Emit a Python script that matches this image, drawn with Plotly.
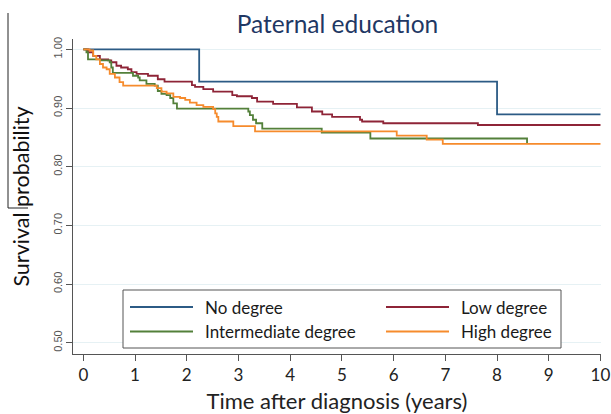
import plotly.graph_objects as go

# ---------------- data ----------------
groups = ["No degree", "Low degree", "Intermediate degree", "High degree"]
colors = ["#2c5b85", "#8e2437", "#53803a", "#f68b2c"]

no_t = [0, 2.24, 8.00, 10.0]
no_s = [1.0, 0.945, 0.889, 0.889]

low_t = [0, 0.09, 0.19, 0.32, 0.48, 0.54, 0.64, 0.73, 0.86, 0.93, 1.03, 1.25, 1.44, 1.57,
         2.10, 2.16, 2.32, 2.51, 2.88, 2.97, 3.26, 3.36, 3.67, 4.13, 4.42, 4.62, 4.81,
         5.35, 5.39, 5.80, 7.63, 10.0]
low_s = [1.0, 0.995, 0.989, 0.983, 0.981, 0.978, 0.972, 0.969, 0.966, 0.961, 0.958, 0.955,
         0.949, 0.945, 0.939, 0.936, 0.932, 0.928, 0.922, 0.920, 0.917, 0.911, 0.907, 0.901,
         0.894, 0.889, 0.885, 0.880, 0.877, 0.874, 0.871, 0.871]

int_t = [0, 0.06, 0.09, 0.32, 0.51, 0.54, 0.57, 0.96, 1.06, 1.09, 1.22, 1.38, 1.44, 1.51,
         1.61, 1.68, 1.74, 1.81, 3.19, 3.22, 3.28, 3.34, 3.46, 4.61, 5.55, 8.58]
int_s = [1.0, 0.995, 0.983, 0.981, 0.978, 0.969, 0.960, 0.955, 0.952, 0.947, 0.941, 0.938,
         0.929, 0.924, 0.922, 0.917, 0.908, 0.899, 0.894, 0.888, 0.880, 0.874, 0.865, 0.858,
         0.848, 0.839]

high_t = [0, 0.12, 0.19, 0.25, 0.32, 0.38, 0.45, 0.51, 0.61, 0.70, 0.77, 1.42, 1.51, 1.61,
          1.74, 1.87, 1.97, 2.06, 2.19, 2.32, 2.51, 2.55, 2.58, 2.61, 2.90, 3.32, 6.06, 6.64,
          6.95, 10.0]
high_s = [1.0, 0.998, 0.989, 0.983, 0.975, 0.969, 0.966, 0.958, 0.952, 0.944, 0.938, 0.934,
          0.928, 0.925, 0.919, 0.917, 0.914, 0.909, 0.905, 0.902, 0.898, 0.891, 0.885, 0.877,
          0.869, 0.860, 0.853, 0.846, 0.839, 0.839]

x_ticks = list(range(0, 11))
y_ticks = [0.5, 0.6, 0.7, 0.8, 0.9, 1.0]
title_text = "Paternal education"
x_title = "Time after diagnosis (years)"
y_title = "Survival probability"

series = [(no_t, no_s), (low_t, low_s), (int_t, int_s), (high_t, high_s)]

# ---------------- layout geometry ----------------
W, H = 611, 414
ML, MR, MT, MB = 73, 10, 39, 60
PW, PH = W - ML - MR, H - MT - MB


def px(x):
    return (x - ML) / PW


def py(y):
    return (H - MB - y) / PH


FONT = "Lato"

fig = go.Figure()
for (t, s), name, c in zip(series, groups, colors):
    fig.add_trace(go.Scatter(x=t, y=s, mode="lines", name=name,
                             line=dict(color=c, width=1.8, shape="hv"),
                             showlegend=False))

shapes = []
annotations = []

# legend box (drawn manually to match long line samples)
shapes.append(dict(type="rect", xref="paper", yref="paper",
                   x0=px(123), x1=px(561), y0=py(348), y1=py(290),
                   line=dict(color="#555555", width=1), fillcolor="white", layer="above"))
leg_pos = [(130, 307), (386, 307), (130, 331.5), (386, 331.5)]
for (lx, ly), name, c in zip(leg_pos, groups, colors):
    shapes.append(dict(type="line", xref="paper", yref="paper",
                       x0=px(lx), x1=px(lx + 63), y0=py(ly), y1=py(ly),
                       line=dict(color=c, width=1.8), layer="above"))
    annotations.append(dict(xref="paper", yref="paper", x=px(lx + 73), y=py(ly),
                            xanchor="left", yanchor="middle", text=name, showarrow=False,
                            font=dict(family=FONT, size=17, color="#1a1a1a")))

# stray bracket line next to the y title (present in the reference image)
shapes.append(dict(type="path", xref="paper", yref="paper",
                   path=f"M{px(8)},{py(13)} L{px(8)},{py(208)} L{px(28)},{py(208)}",
                   line=dict(color="#222222", width=1)))

fig.update_layout(
    width=W, height=H,
    margin=dict(l=ML, r=MR, t=MT, b=MB, pad=0, autoexpand=False),
    paper_bgcolor="white", plot_bgcolor="white",
    title=dict(text=title_text, x=337.5 / W, xanchor="center", y=1 - 24 / H, yanchor="middle",
               xref="container", yref="container",
               font=dict(family=FONT, size=24.5, color="#1f3864")),
    shapes=shapes, annotations=annotations,
    xaxis=dict(range=[-0.2, 10.01], tickvals=x_ticks, ticks="outside", ticklen=6,
               tickcolor="#555555", showline=True, linecolor="#555555", linewidth=1,
               showgrid=False, zeroline=False, automargin=False,
               tickfont=dict(family=FONT, size=17, color="#222222"),
               title=dict(text=x_title, font=dict(family=FONT, size=22, color="#222222"),
                          standoff=9)),
    yaxis=dict(range=[0.4807, 1.0176], tickvals=y_ticks, tickformat=".2f", tickangle=-90,
               ticks="outside", ticklen=6, tickcolor="#555555",
               showline=True, linecolor="#555555", linewidth=1, automargin=False,
               showgrid=True, gridcolor="#e6f1f4", gridwidth=1, zeroline=False,
               tickfont=dict(family="Liberation Sans", size=11, color="#555555"),
               title=dict(text=y_title, font=dict(family=FONT, size=21.5, color="#111111"),
                          standoff=16)),
)

fig.write_html("out.html")
